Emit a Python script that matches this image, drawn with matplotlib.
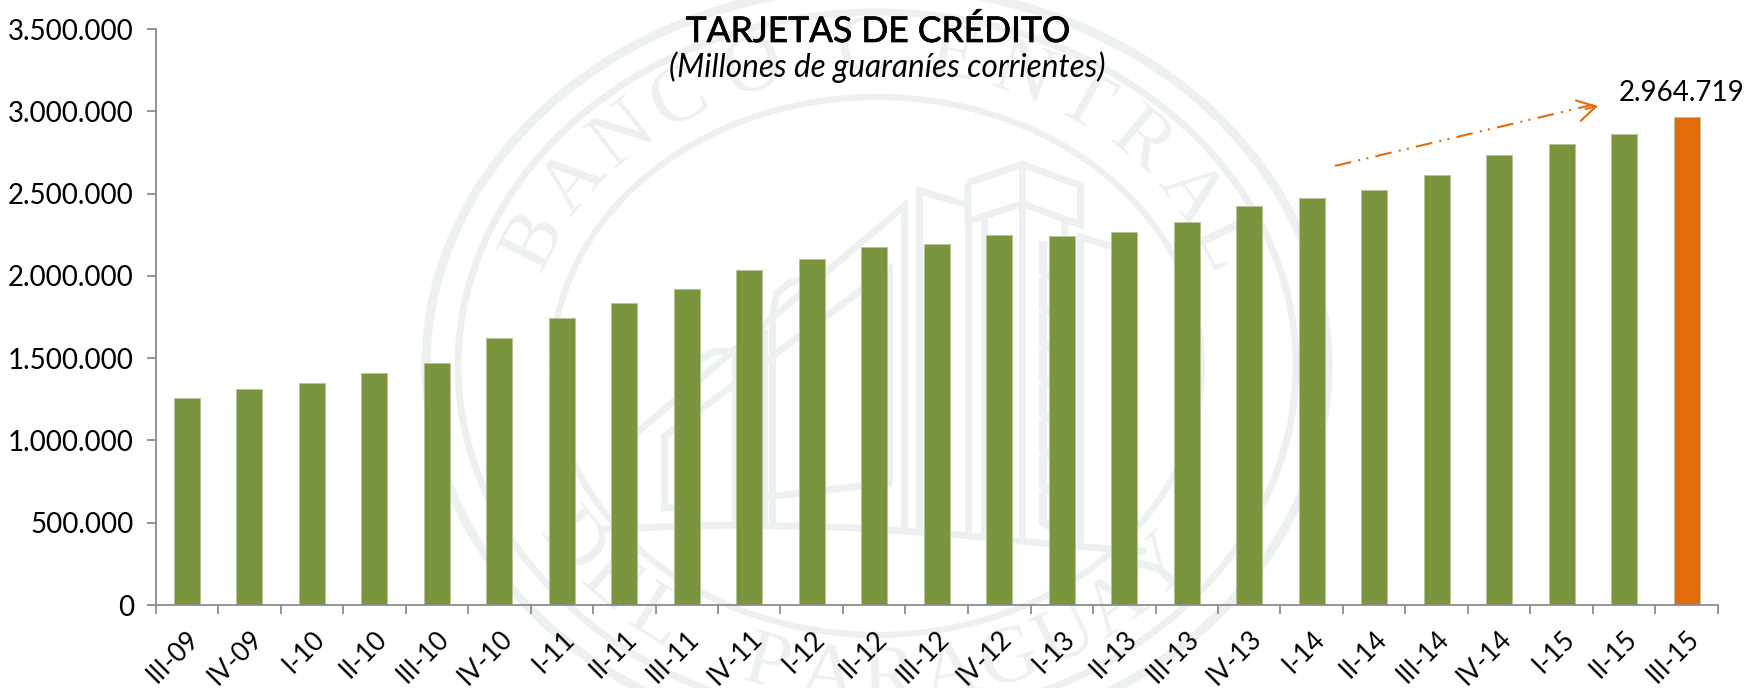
import numpy as np
import matplotlib
matplotlib.use('Agg')
import matplotlib.pyplot as plt
import matplotlib.patheffects as pe
from matplotlib.patches import Ellipse

categories = ['III-09', 'IV-09', 'I-10', 'II-10', 'III-10', 'IV-10', 'I-11', 'II-11', 'III-11',
              'IV-11', 'I-12', 'II-12', 'III-12', 'IV-12', 'I-13', 'II-13', 'III-13', 'IV-13',
              'I-14', 'II-14', 'III-14', 'IV-14', 'I-15', 'II-15', 'III-15']
values = [1257800, 1312500, 1350800, 1409700, 1470500, 1622400, 1745800, 1835100, 1918300,
          2035600, 2100600, 2173500, 2193600, 2246400, 2240400, 2264700, 2329100, 2424500,
          2473100, 2521700, 2611000, 2734400, 2801200, 2863800, 2964719]
yTicks = [0, 500000, 1000000, 1500000, 2000000, 2500000, 3000000, 3500000]
yLabels = ['0', '500.000', '1.000.000', '1.500.000', '2.000.000', '2.500.000', '3.000.000', '3.500.000']

# building in the seal, in the coordinates of a crop starting at (600,140), scale 2.8
building = [
    [(1030, 120), (1183, 68), (1345, 128), (1345, 238), (1183, 178), (1030, 228), (1030, 120)],
    [(1183, 68), (1183, 1112)],
    [(1030, 228), (1030, 1098)],
    [(1075, 222), (1075, 1100)],
    [(1298, 225), (1298, 295)],
    [(1030, 182), (895, 142), (895, 1088)],
    [(100, 822), (852, 185), (852, 1085)],
    [(210, 1030), (180, 1030), (180, 830), (810, 362), (810, 960), (460, 1000)],
    [(483, 1072), (483, 490), (495, 430), (530, 400), (640, 372)],
    [(380, 1070), (380, 592), (320, 592), (270, 620)],
    [(460, 530), (460, 1070)],
    [(1440, 300), (1345, 272), (1345, 1140)],
    [(0, 1090), (200, 1082), (400, 1078), (700, 1085), (1000, 1105), (1300, 1135), (1530, 1152)],
]
topLetters = 'BANCOCENTRAL'
topAngles = [-66.6, -54.6, -43, -32, -19.3, -2, 12, 23, 33.6, 45, 57, 67.5]
bottomLetters = 'DEL PARAGUAY'
sealColor = '#ECF0F1'
green = '#7A953D'
orange = '#E36C0A'
axisGrey = '#8C8C8C'


def drawSeal(fig):
    ax = fig.add_axes([0, 0, 1, 1], zorder=0)
    ax.set_xlim(0, 1755)
    ax.set_ylim(688, 0)
    ax.axis('off')
    cx, cy = 877, 366
    for rx, ry, lw in [(451, 380, 6.5), (419, 354, 5), (325, 269, 4.5)]:
        ax.add_patch(Ellipse((cx, cy), 2 * rx, 2 * ry, fill=False, ec=sealColor, lw=lw))
    for line in building:
        pts = np.array(line, dtype=float)
        ax.plot(600 + pts[:, 0] / 2.8, 140 + pts[:, 1] / 2.8, color=sealColor, lw=5,
                solid_joinstyle='miter', solid_capstyle='butt')
    for k in range(8):
        pts = np.array([(1240, 295 + k * 100), (1240, 370 + k * 100), (1262, 382 + k * 100)], dtype=float)
        ax.plot(600 + pts[:, 0] / 2.8, 140 + pts[:, 1] / 2.8, color=sealColor, lw=6)

    rx, ry = 372, 315
    for ch, ang in zip(topLetters, topAngles):
        t = np.radians(ang)
        rot = np.degrees(np.arctan2(-ry * np.sin(t), rx * np.cos(t)))
        ax.text(cx + rx * np.sin(t), cy - ry * np.cos(t), ch, rotation=rot, rotation_mode='anchor',
                ha='center', va='center', color=sealColor, fontsize=58, family='Liberation Serif')
    for i, ch in enumerate(bottomLetters):
        s = np.radians(-55.6 + i * 105.3 / (len(bottomLetters) - 1))
        rot = np.degrees(np.arctan2(ry * np.sin(s), rx * np.cos(s)))
        ax.text(cx + rx * np.sin(s), cy + ry * np.cos(s), ch, rotation=rot, rotation_mode='anchor',
                ha='center', va='center', color=sealColor, fontsize=58, family='Liberation Serif')


def plotCards():
    plt.rcParams['font.family'] = ['Lato', 'DejaVu Sans']
    w, h = 1755, 688
    fig = plt.figure(figsize=(w / 100, h / 100), dpi=100)
    drawSeal(fig)

    ax = fig.add_axes([155.5 / w, 1 - 605 / h, 1562.5 / w, 576 / h], zorder=1)
    ax.patch.set_alpha(0)
    x = np.arange(len(values)) + 0.5
    colors = [green] * (len(values) - 1) + [orange]
    ax.bar(x, values, width=0.416, color=colors, edgecolor='#B4C496', linewidth=0.6)
    ax.set_xlim(0, len(values))
    ax.set_ylim(0, 3500000)

    for side in ['top', 'right']:
        ax.spines[side].set_visible(False)
    for side in ['left', 'bottom']:
        ax.spines[side].set_color(axisGrey)
        ax.spines[side].set_linewidth(1.3)

    ax.set_yticks(yTicks)
    ax.set_yticklabels(yLabels, fontsize=20)
    ax.tick_params(axis='y', length=6.5, width=1.3, color=axisGrey, pad=9)
    ax.set_xticks(np.arange(len(values) + 1))
    ax.set_xticklabels([])
    ax.tick_params(axis='x', which='major', length=6.5, width=1.3, color=axisGrey)
    ax.set_xticks(x, minor=True)
    ax.set_xticklabels(categories, minor=True, fontsize=19, rotation=45, ha='right',
                       rotation_mode='anchor')
    ax.tick_params(axis='x', which='minor', length=0, pad=15)

    title = fig.text(878 / w, 1 - 42 / h, 'TARJETAS DE CRÉDITO', ha='center', va='baseline', fontsize=25.5,
                     color='black')
    title.set_path_effects([pe.withStroke(linewidth=0.5, foreground='black')])
    fig.text(887 / w, 1 - 77 / h, '(Millones de guaraníes corrientes)', ha='center', va='baseline',
             fontsize=22.7, style='italic', color='black')

    ax.annotate('2.964.719', (x[-1], values[-1]), xytext=(-3.5, 8), textcoords='offset points',
                ha='center', va='bottom', fontsize=20, color='black')

    # trend arrow: dashed shaft, solid open head
    ax.plot([18.87, 23.0], [2668000, 3040000], color=orange, lw=1.5,
            linestyle=(0, (8, 3.5, 1, 3, 1, 3.5)))
    ax.annotate('', xy=(23.08, 3032000), xytext=(22.88, 3014000),
                arrowprops=dict(arrowstyle='->,head_length=1.3,head_width=0.75', color=orange, lw=1.5,
                                shrinkA=0, shrinkB=0))
    fig.savefig('out.png', dpi=100)


if __name__ == '__main__':
    plotCards()
